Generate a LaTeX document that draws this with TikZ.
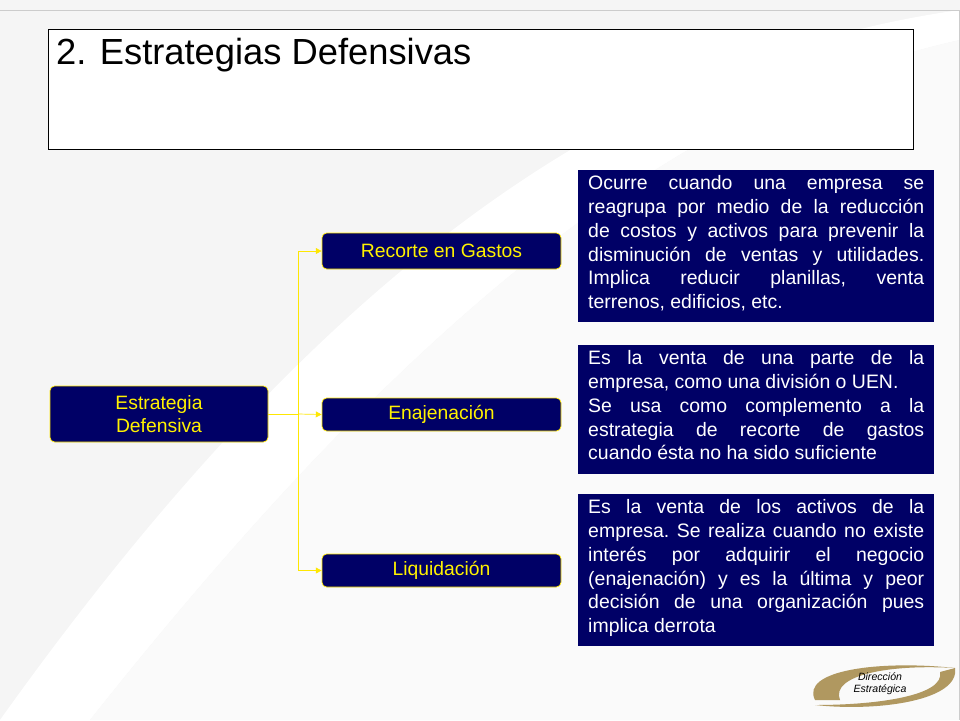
\documentclass[tikz,border=0pt]{standalone}
\usepackage{fontspec}
\setmainfont{Liberation Sans}
\usetikzlibrary{positioning,arrows.meta}
\definecolor{navy}{RGB}{0,0,102}
\definecolor{gold}{RGB}{176,152,96}
\newcommand{\nohyph}{\hyphenpenalty=10000\relax\exhyphenpenalty=10000\relax\frenchspacing}
\tikzset{
  stratbox/.style={draw=yellow!90!orange, fill=navy, rounded corners=4pt, text=yellow, line width=0.6pt, font=\fontsize{16.5}{20}\selectfont, align=center},
  descbox/.style={fill=navy, text=white, inner sep=0pt, font=\fontsize{16.6}{20.4}\selectfont\nohyph},
  link/.style={draw=yellow!90!orange, line width=0.6pt, -{Triangle[length=5pt,width=5pt]}}
}
\begin{document}
\begin{tikzpicture}[x=0.03cm,y=-0.03cm]
                %background of the slide
                \useasboundingbox (0,0) rectangle (960,720);
                \fill[gray!8] (0,0) rectangle (960,720);
                \fill[white] (0,720) .. controls (300,300) and (600,60) .. (960,10) -- (960,40) .. controls (640,110) and (360,380) .. (90,720) -- cycle;
                \fill[gray!4] (90,720) .. controls (360,380) and (640,110) .. (960,40) -- (960,720) -- cycle;
                \draw[gray!40] (0.5,10) -- (959.5,10) -- (959.5,719.5);
                %title box
                \draw[fill=white, line width=0.6pt] (48,29) rectangle (913,149);
                \node[anchor=north west, font=\fontsize{31}{34}\selectfont] (title) at (52,34) {2. Estrategias Defensivas};
                %strategy nodes
                \node[stratbox, minimum width=218*0.03cm, minimum height=56*0.03cm] (root) at (159,414) {Estrategia\\Defensiva};
                \node[stratbox, minimum width=239*0.03cm, minimum height=36*0.03cm] (recorte) at (441.5,251) {Recorte en Gastos};
                \node[stratbox, minimum width=239*0.03cm, minimum height=33*0.03cm] (enaj) at (441.5,414.5) {Enajenación};
                \node[stratbox, minimum width=239*0.03cm, minimum height=33*0.03cm] (liqui) at (441.5,570.5) {Liquidación};
                %connectors
                \coordinate (trunk) at (298,414);
                \draw[yellow!90!orange, line width=0.6pt] (root.east) -- (trunk);
                \draw[link] (trunk) |- (recorte.west) ;
                \draw[link] (trunk) -- (enaj.west);
                \draw[link] (trunk) |- (liqui.west);
                %descriptions
                \fill[navy] (578,170) rectangle (934,322);
                \fill[navy] (578,345) rectangle (934,474);
                \fill[navy] (578,494) rectangle (934,646);
                \node[descbox, anchor=north west, text width=336*0.03cm, align=justify] (d1) at (588,175)
                  {Ocurre cuando una empresa se\linebreak reagrupa por medio de la reducción\linebreak de costos y activos para prevenir la\linebreak disminución de ventas y utilidades.\linebreak Implica reducir planillas, venta\linebreak terrenos, edificios, etc.};
                \node[descbox, anchor=north west, text width=336*0.03cm, align=justify] (d2) at (588,350)
                  {Es la venta de una parte de la\linebreak empresa, como una división o UEN.\\ Se usa como complemento a la\linebreak estrategia de recorte de gastos\linebreak cuando ésta no ha sido suficiente};
                \node[descbox, anchor=north west, text width=336*0.03cm, align=justify] (d3) at (588,499)
                  {Es la venta de los activos de la\linebreak empresa. Se realiza cuando no existe\linebreak interés por adquirir el negocio\linebreak (enajenación) y es la última y peor\linebreak decisión de una organización pues\linebreak implica derrota};
                %logo
                \fill[gold] (815,700) .. controls (800,670) and (880,660) .. (955,668) .. controls (890,664) and (830,675) .. (840,700) -- cycle;
                \fill[gold] (955,668) .. controls (960,700) and (880,712) .. (815,705) .. controls (880,705) and (945,695) .. (940,672) -- cycle;
                \node[font=\itshape\fontsize{9}{10}\selectfont, align=center] (logo) at (880,684) {Dirección\\Estratégica};
\end{tikzpicture}
\end{document}
